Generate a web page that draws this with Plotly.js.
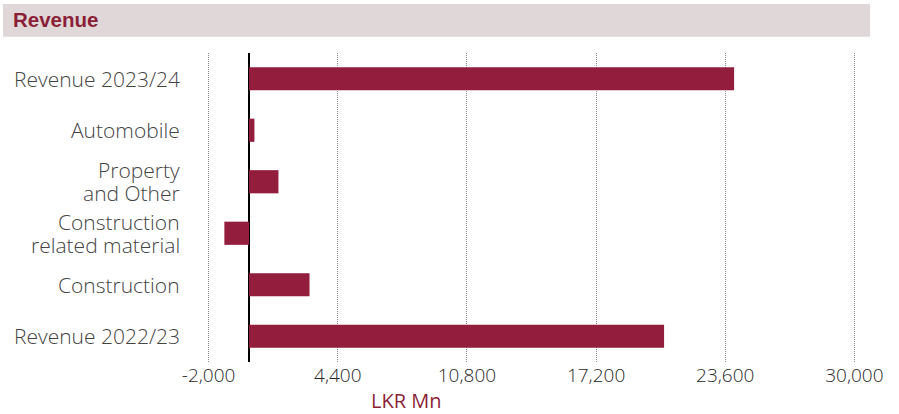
<!DOCTYPE html>
<html>
<head>
<meta charset="utf-8">
<script src="https://cdn.plot.ly/plotly-3.0.1.min.js"></script>
<style>
html,body{margin:0;padding:0;background:#fff;}
#chart{width:899px;height:414px;}
</style>
</head>
<body>
<div id="chart"></div>
<script>
const categories = ["Revenue 2023/24", "Automobile", "Property<br>and Other", "Construction<br>related material", "Construction", "Revenue 2022/23"];
const values = [24040, 270, 1460, -1220, 3000, 20570];
const tickVals = [-2000, 4400, 10800, 17200, 23600, 30000];
const tickText = ["-2,000", "4,400", "10,800", "17,200", "23,600", "30,000"];

const barColor = "#921D3C";
const titleColor = "#8B1F37";
const labelFont = "Open Sans, Liberation Sans, Arial, sans-serif";

const data = [{
  type: "bar",
  orientation: "h",
  y: categories,
  x: values,
  marker: {color: barColor},
  hoverinfo: "x+y"
}];

const L = 207, W = 649, T = 53, H = 309;
const lineGap = 23;

// category labels drawn as right-aligned text lines, tighter leading than tick labels allow
const labelAnnotations = [];
categories.forEach(function (cat) {
  const lines = cat.split("<br>");
  const n = lines.length;
  lines.forEach(function (line, i) {
    labelAnnotations.push({
      text: line,
      xref: "paper", yref: "y",
      x: (182 - L) / W, y: cat,
      xanchor: "right", yanchor: "middle",
      yshift: -(i - (n - 1) / 2) * lineGap,
      showarrow: false,
      font: {family: labelFont, size: 21, color: "#444444", weight: 300}
    });
  });
});

const layout = {
  width: 899,
  height: 414,
  margin: {l: L, r: 899 - L - W, t: T, b: 414 - T - H},
  paper_bgcolor: "#ffffff",
  plot_bgcolor: "#ffffff",
  showlegend: false,
  bargap: 0.55,
  font: {family: labelFont, color: "#333333"},
  title: {
    text: "<b>Revenue</b>",
    font: {family: "Liberation Sans, Arial, sans-serif", size: 20.5, color: titleColor},
    x: 13/899, xanchor: "left", xref: "container",
    y: 1 - 20/414, yanchor: "middle", yref: "container"
  },
  shapes: [{
    type: "rect", xref: "paper", yref: "paper",
    x0: (3-L)/W, x1: (870-L)/W,
    y0: (T+H-36.7)/H, y1: (T+H-4)/H,
    fillcolor: "#E0D7D8", line: {width: 0}, layer: "below"
  }],
  xaxis: {
    range: [-2080, 30080],
    tickvals: tickVals,
    ticktext: tickText,
    showgrid: true,
    gridcolor: "#8a8a8a",
    griddash: "1px,1px",
    gridwidth: 1,
    zeroline: true,
    zerolinecolor: "#000000",
    zerolinewidth: 1.2,
    showline: false,
    ticks: "",
    tickfont: {family: labelFont, size: 19, color: "#2a2a2a", weight: 300},
    fixedrange: true
  },
  yaxis: {
    autorange: "reversed",
    type: "category",
    showgrid: false,
    zeroline: false,
    showline: false,
    ticks: "",
    showticklabels: false,
    fixedrange: true
  },
  annotations: labelAnnotations.concat([{
    text: "LKR Mn",
    xref: "paper", yref: "paper",
    x: (406-L)/W, y: (T+H-400)/H,
    xanchor: "center", yanchor: "middle",
    showarrow: false,
    font: {family: labelFont, size: 20, color: titleColor}
  }])
};

Plotly.newPlot("chart", data, layout, {displayModeBar: false, staticPlot: true});
</script>
</body>
</html>
